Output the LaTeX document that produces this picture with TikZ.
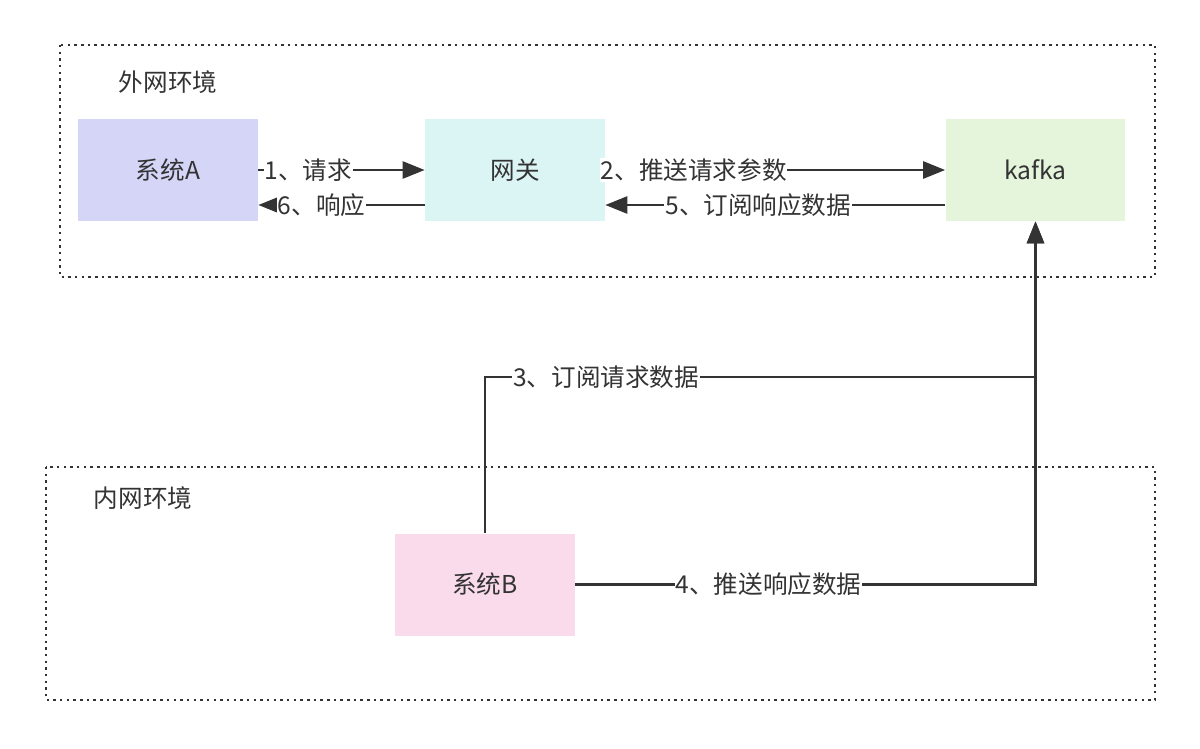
\documentclass[tikz,border=0pt]{standalone}
\usepackage{fontspec}
\setmainfont{Noto Sans CJK SC}
\usepackage{tikz}
\usetikzlibrary{arrows.meta,positioning,calc}
\definecolor{ink}{HTML}{333333}
\definecolor{sysa}{HTML}{D4D5F7}
\definecolor{gate}{HTML}{DBF4F4}
\definecolor{kfk}{HTML}{E5F5DC}
\definecolor{sysb}{HTML}{F9DBEB}
\begin{document}
\begin{tikzpicture}[x=0.02cm, y=-0.02cm,
  font=\fontsize{14}{16}\selectfont, text=ink,
  box/.style={minimum width=3.6cm, minimum height=2.04cm, inner sep=0pt},
  zone/.style={draw=ink, line width=1.5pt, dash pattern=on 1.4pt off 2.4pt},
  lbl/.style={fill=white, inner sep=0.5pt},
  arr/.style={draw=ink, line width=1.5pt, -{Triangle[length=0.44cm, width=0.34cm]}}]
\useasboundingbox (0,0) rectangle (1200,748);
\draw[zone] (60,45) rectangle (1155,277);
\draw[zone] (46,467) rectangle (1155,700);
\node (outer) at (168,82) {外网环境};
\node (inner) at (143,498) {内网环境};
\node[box, fill=sysa] (A) at (168,170) {系统A};
\node[box, fill=gate] (gw) at (515,170) {网关};
\node[box, fill=kfk] (kafka) at (1035.5,170) {kafka};
\node[box, fill=sysb] (B) at (485,584.5) {系统B};
\coordinate (j) at (1035.5,377);
\draw[arr] (A.east) -- node[lbl, pos=0.3] {1、请求} (gw.west);
\draw[arr] ([yshift=-0.7cm]gw.west) -- node[lbl, pos=0.62] {6、响应} ([yshift=-0.7cm]A.east);
\draw[arr] (gw.east) -- node[lbl, pos=0.26] {2、推送请求参数} (kafka.west);
\draw[arr] ([yshift=-0.7cm]kafka.west) -- node[lbl, pos=0.55] {5、订阅响应数据} ([yshift=-0.7cm]gw.east);
\draw[arr] (B.north) |- node[lbl, pos=0.61] {3、订阅请求数据} (j) -- (kafka.south);
\draw[arr] (B.east) -| node[lbl, pos=0.21] {4、推送响应数据} (kafka.south);
\end{tikzpicture}
\end{document}
